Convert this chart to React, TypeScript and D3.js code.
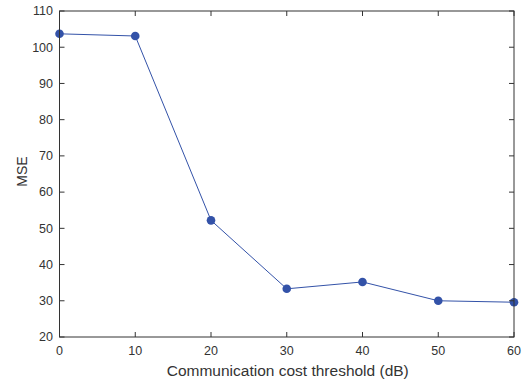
import React from "react";
import * as d3 from "d3";

const thresholds = [0, 10, 20, 30, 40, 50, 60];
const mseValues = [103.7, 103.1, 52.2, 33.3, 35.2, 30.0, 29.6];
const xTicks = [0, 10, 20, 30, 40, 50, 60];
const yTicks = [20, 30, 40, 50, 60, 70, 80, 90, 100, 110];

const width = 526;
const height = 383;
const margin = { top: 11, right: 12, bottom: 46, left: 59.5 };
const axisColor = "#333333";
const lineColor = "#3352a8";
const font = "Liberation Sans, Arial, sans-serif";

const App = () => {
  const x = d3
    .scaleLinear()
    .domain([0, 60])
    .range([margin.left, width - margin.right]);
  const y = d3
    .scaleLinear()
    .domain([20, 110])
    .range([height - margin.bottom, margin.top]);

  const pts = thresholds.map((t, i) => [x(t), y(mseValues[i])] as [number, number]);
  const path = d3.line()(pts) || "";

  const x0 = x(0);
  const x1 = x(60);
  const y0 = y(20);
  const y1 = y(110);
  const tick = 5;

  return (
    <svg
      width={width}
      height={height}
      style={{ position: "absolute", left: 0, top: 0, background: "#fff" }}
    >
      {/* data */}
      <path d={path} fill="none" stroke={lineColor} strokeWidth={1} />
      {pts.map((p, i) => (
        <circle key={i} cx={p[0]} cy={p[1]} r={4.3} fill={lineColor} />
      ))}

      {/* axes box */}
      <rect
        x={x0}
        y={y1}
        width={x1 - x0}
        height={y0 - y1}
        fill="none"
        stroke={axisColor}
        strokeWidth={1}
      />

      {/* x ticks */}
      {xTicks.map((t) => (
        <g key={"x" + t}>
          <line x1={x(t)} x2={x(t)} y1={y0} y2={y0 - tick} stroke={axisColor} />
          <line x1={x(t)} x2={x(t)} y1={y1} y2={y1 + tick} stroke={axisColor} />
          <text
            x={x(t)}
            y={y0 + 18}
            textAnchor="middle"
            fontSize={12.5}
            fontFamily={font}
            fill={axisColor}
          >
            {t}
          </text>
        </g>
      ))}

      {/* y ticks */}
      {yTicks.map((t) => (
        <g key={"y" + t}>
          <line x1={x0} x2={x0 + tick} y1={y(t)} y2={y(t)} stroke={axisColor} />
          <line x1={x1} x2={x1 - tick} y1={y(t)} y2={y(t)} stroke={axisColor} />
          <text
            x={x0 - 6.5}
            y={y(t)}
            dy="0.35em"
            textAnchor="end"
            fontSize={12.5}
            fontFamily={font}
            fill={axisColor}
          >
            {t}
          </text>
        </g>
      ))}

      {/* labels */}
      <text
        x={(x0 + x1) / 2 + 1}
        y={y0 + 38.5}
        textAnchor="middle"
        fontSize={15.5}
        fontFamily={font}
        fill={axisColor}
      >
        Communication cost threshold (dB)
      </text>
      <text
        transform={`translate(${x0 - 33}, ${(y0 + y1) / 2 - 2.5}) rotate(-90)`}
        textAnchor="middle"
        fontSize={14}
        fontFamily={font}
        fill={axisColor}
      >
        MSE
      </text>
    </svg>
  );
};

export default App;
